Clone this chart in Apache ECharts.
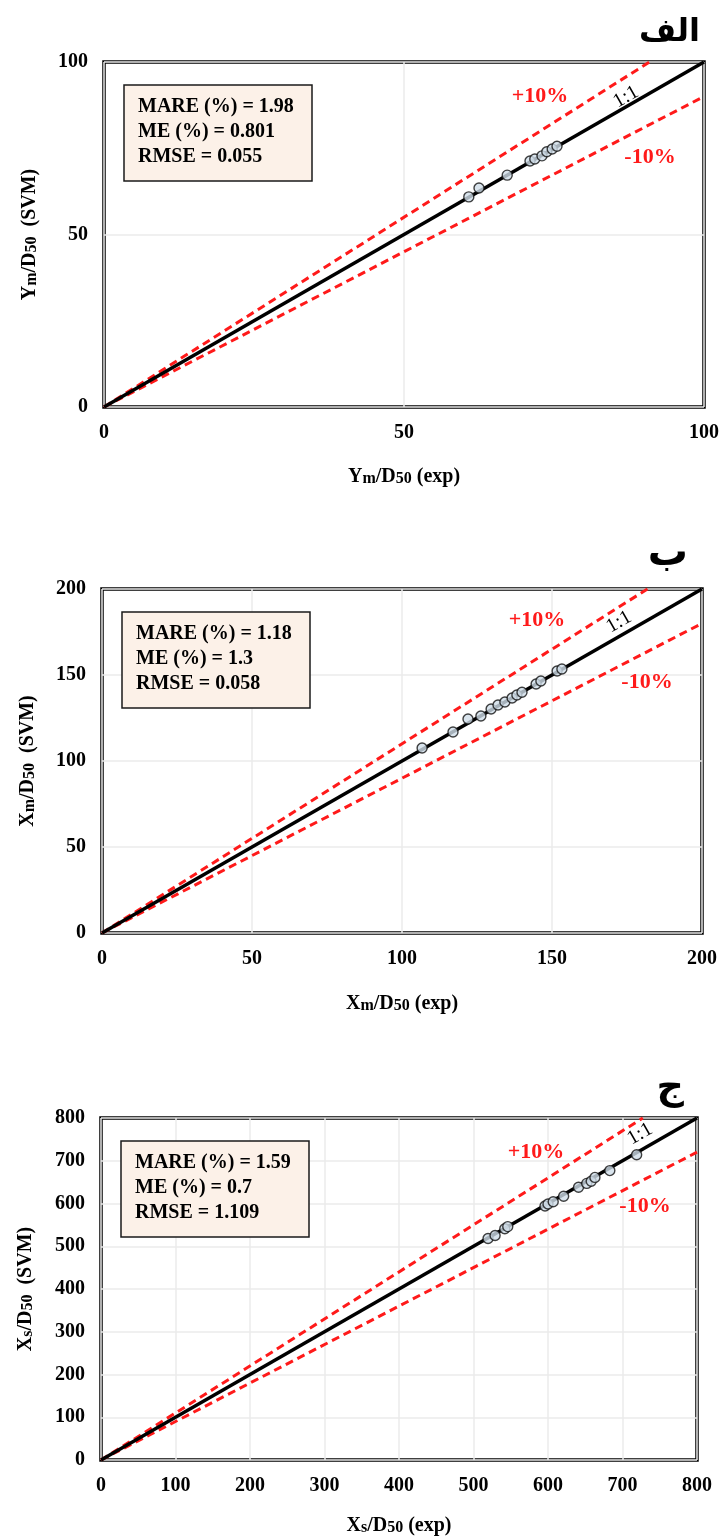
<!DOCTYPE html>
<html><head><meta charset="utf-8">
<script src="https://cdn.jsdelivr.net/npm/echarts@6/dist/echarts.min.js"></script>
<style>html,body{margin:0;padding:0;background:#fff}#c{width:723px;height:1537px}</style>
</head><body><div id="c"></div>
<script>
// Panel A (الف): Ym/D50
const ymExp = [60.8, 62.5, 67.2, 71.0, 71.8, 73.0, 73.8, 74.7, 75.5];
const ymSvm = [60.9, 63.5, 67.2, 71.3, 71.9, 72.8, 74.0, 74.8, 75.6];
// Panel B (ب): Xm/D50
const xmExp = [106.7, 117.0, 122.0, 126.3, 129.7, 132.0, 134.3, 136.7, 138.3, 140.0, 144.7, 146.3, 151.7, 153.3];
const xmSvm = [107.6, 116.9, 124.4, 126.2, 130.2, 132.6, 134.3, 136.6, 138.4, 140.0, 144.8, 146.5, 152.3, 153.5];
// Panel C (ج): Xs/D50
const xsExp = [519.5, 529, 542, 546, 596, 600, 607, 621, 641, 652, 658, 663, 683, 719];
const xsSvm = [518, 525, 541, 546, 594, 599, 604, 617, 638, 647, 652, 661, 677, 714];

const axisMax = [100, 200, 800];
const axisInterval = [50, 50, 100];
const panelTitles = ['الف', 'ب', 'ج'];
const statLines = [
  ['MARE (%) = 1.98', 'ME (%) = 0.801', 'RMSE = 0.055'],
  ['MARE (%) = 1.18', 'ME (%) = 1.3', 'RMSE = 0.058'],
  ['MARE (%) = 1.59', 'ME (%) = 0.7', 'RMSE = 1.109']
];
const xNames = [['Y','m'], ['X','m'], ['X','s']];

const F = '"Liberation Serif","Times New Roman",serif';
const grids = [
  {left:104, top:62, width:600, height:345},
  {left:102, top:589, width:600, height:344},
  {left:101, top:1118, width:596, height:347}
];
const pairs = [[ymExp, ymSvm],[xmExp, xmSvm],[xsExp, xsSvm]];

const rich = {
  b:{fontFamily:F, fontWeight:'bold', fontSize:20, color:'#000'},
  s:{fontFamily:F, fontWeight:'bold', fontSize:16, color:'#000', padding:[4,0,0,0]}
};

const option = {
  animation:false,
  grid: grids.map(g => Object.assign({show:true, borderColor:'#000', borderWidth:3.5}, g)),
  xAxis: grids.map((g,i) => ({
    gridIndex:i, type:'value', min:0, max:axisMax[i], interval:axisInterval[i],
    name:'{b|'+xNames[i][0]+'}{s|'+xNames[i][1]+'}{b|/D}{s|50}{b| (exp)}',
    nameLocation:'middle', nameGap: [60, 61, 56][i],
    nameTextStyle:{rich},
    axisLine:{show:false}, axisTick:{show:false},
    axisLabel:{fontFamily:F, fontWeight:'bold', fontSize:20, color:'#000', margin:16},
    splitLine:{show:true, lineStyle:{color:'#ebebeb', width:1.5}}
  })),
  yAxis: grids.map((g,i) => ({
    gridIndex:i, type:'value', min:0, max:axisMax[i], interval:axisInterval[i],
    name:'{b|'+xNames[i][0]+'}{s|'+xNames[i][1]+'}{b|/D}{s|50}{b|  (SVM)}',
    nameLocation:'middle', nameGap: [64, 64, 65][i], nameRotate:90,
    nameTextStyle:{rich},
    axisLine:{show:false}, axisTick:{show:false},
    axisLabel:{fontFamily:F, fontWeight:'bold', fontSize:20, color:'#000', margin:16},
    splitLine:{show:true, lineStyle:{color:'#ebebeb', width:1.5}}
  })),
  title: [],
  series: []
};

const titleCfg = [
  {right:18, top:5, size:32},
  {right:30, top:522, size:40},
  {right:34, top:1058, size:38}
];

grids.forEach((g,i) => {
  const m = axisMax[i];
  option.series.push({
    type:'line', xAxisIndex:i, yAxisIndex:i, data:[[0,0],[m/1.1,m]], symbol:'none',
    lineStyle:{color:'#ff1a1a', width:3, type:[8,5]}, z:3
  });
  option.series.push({
    type:'line', xAxisIndex:i, yAxisIndex:i, data:[[0,0],[m,m*0.9]], symbol:'none',
    lineStyle:{color:'#ff1a1a', width:3, type:[8,5]}, z:3
  });
  option.series.push({
    type:'line', xAxisIndex:i, yAxisIndex:i, data:[[0,0],[m,m]], symbol:'none',
    lineStyle:{color:'#000', width:3.5}, z:4
  });
  option.series.push({
    type:'scatter', xAxisIndex:i, yAxisIndex:i,
    data: pairs[i][0].map((v,k)=>[v, pairs[i][1][k]]),
    symbol:'circle', symbolSize:10,
    itemStyle:{color:'#cfdde8', borderColor:'#111', borderWidth:1.4, opacity:0.8}, z:5
  });
  option.title.push({
    text: statLines[i].join('\n'),
    left: g.left + 20, top: g.top + 23,
    backgroundColor:'#fcf1e8', borderColor:'#1a1a1a', borderWidth:1.5,
    padding:[9, 18, 12, 14],
    textStyle:{fontFamily:F, fontWeight:'bold', fontSize:20, color:'#000', lineHeight:25}
  });
  option.title.push({
    text: panelTitles[i], right: titleCfg[i].right, top: titleCfg[i].top,
    textStyle:{fontFamily:'"DejaVu Sans"', fontWeight:'bold', fontSize:titleCfg[i].size, color:'#000', lineHeight:titleCfg[i].size*1.4}
  });
});

const labelPos = [
  {p:[540,96], m:[650,157], o:[626,97]},
  {p:[537,620], m:[647,682], o:[619,622]},
  {p:[536,1152], m:[645,1206], o:[640,1134]}
];
option.graphic = [];
labelPos.forEach(lp => {
  option.graphic.push({type:'text', x:lp.p[0], y:lp.p[1], style:{text:'+10%', font:'bold 22px '+F, fill:'#ff1a1a', textAlign:'center', textVerticalAlign:'middle'}, z:100});
  option.graphic.push({type:'text', x:lp.m[0], y:lp.m[1], style:{text:'-10%', font:'bold 22px '+F, fill:'#ff1a1a', textAlign:'center', textVerticalAlign:'middle'}, z:100});
  option.graphic.push({type:'text', x:lp.o[0], y:lp.o[1], rotation:0.52, style:{text:'1:1', font:'20px '+F, fill:'#000', textAlign:'center', textVerticalAlign:'middle'}, z:100});
});

const chart = echarts.init(document.getElementById('c'), null, {renderer:'canvas'});
chart.setOption(option);
</script>
</body></html>
